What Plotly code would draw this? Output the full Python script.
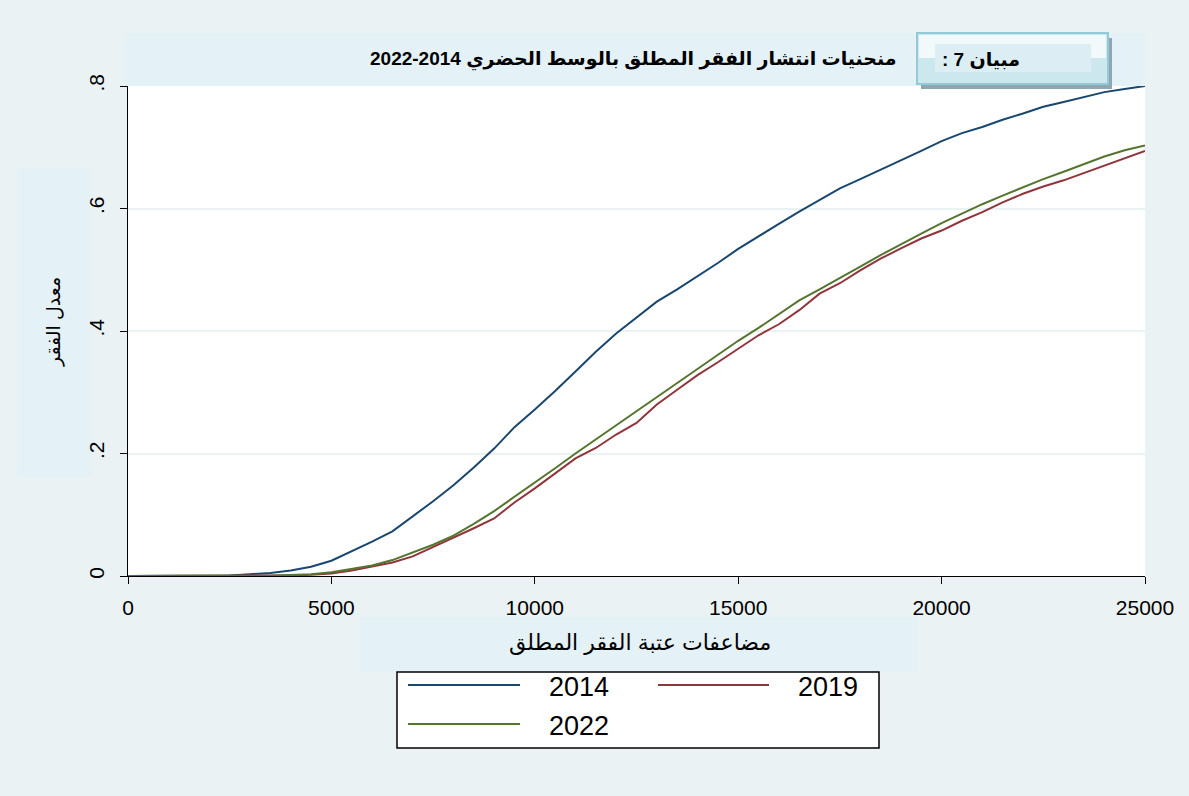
import plotly.graph_objects as go

W, H = 1189, 796

x_vals = [0, 500, 1000, 1500, 2000, 2500, 3000, 3500, 4000, 4500, 5000, 5500, 6000, 6500,
          7000, 7500, 8000, 8500, 9000, 9500, 10000, 10500, 11000, 11500, 12000, 12500,
          13000, 13500, 14000, 14500, 15000, 15500, 16000, 16500, 17000, 17500, 18000,
          18500, 19000, 19500, 20000, 20500, 21000, 21500, 22000, 22500, 23000, 23500,
          24000, 24500, 25000]

y_2014 = [0, 0, 0, 0, 0.0005, 0.001, 0.003, 0.005, 0.009, 0.015, 0.025, 0.04, 0.056, 0.073,
          0.097, 0.122, 0.148, 0.177, 0.208, 0.243, 0.272, 0.302, 0.334, 0.366, 0.396, 0.422,
          0.448, 0.468, 0.489, 0.511, 0.534, 0.555, 0.575, 0.595, 0.614, 0.633, 0.648,
          0.663, 0.679, 0.694, 0.710, 0.723, 0.733, 0.745, 0.755, 0.766, 0.774, 0.782,
          0.790, 0.795, 0.800]

y_2019 = [0, 0, 0, 0, 0, 0, 0, 0.0005, 0.001, 0.002, 0.004, 0.009, 0.015, 0.022,
          0.032, 0.047, 0.063, 0.078, 0.094, 0.120, 0.143, 0.168, 0.192, 0.209, 0.231, 0.250,
          0.280, 0.304, 0.328, 0.349, 0.371, 0.393, 0.411, 0.434, 0.461, 0.478, 0.499,
          0.518, 0.535, 0.551, 0.564, 0.580, 0.594, 0.610, 0.624, 0.636, 0.646, 0.658,
          0.669, 0.681, 0.694]

y_2022 = [0, 0, 0, 0, 0, 0, 0, 0.0005, 0.0015, 0.003, 0.006, 0.011, 0.017, 0.026,
          0.038, 0.051, 0.066, 0.085, 0.106, 0.129, 0.152, 0.176, 0.200, 0.223, 0.246, 0.268,
          0.292, 0.314, 0.337, 0.360, 0.384, 0.405, 0.428, 0.450, 0.468, 0.486, 0.505,
          0.524, 0.542, 0.559, 0.576, 0.592, 0.607, 0.621, 0.635, 0.648, 0.660, 0.672,
          0.685, 0.695, 0.703]

series = [("2014", y_2014, "#1A476F"), ("2019", y_2019, "#90353B"), ("2022", y_2022, "#55752F")]

x_ticks = [0, 5000, 10000, 15000, 20000, 25000]
x_ticktext = ["0", "5000", "10000", "15000", "20000", "25000"]
y_ticks = [0, 0.2, 0.4, 0.6, 0.8]
y_ticktext = ["0", ".2", ".4", ".6", ".8"]

title_text = "2022-2014 منحنيات انتشار الفقر المطلق بالوسط الحضري"
box_text = ": 7 مبيان"
x_title = "مضاعفات عتبة الفقر المطلق"
y_title = "معدل الفقر"

FONT = "Arial, 'Liberation Sans', 'DejaVu Sans', sans-serif"


def px(x):
    return x / W


def py(y):
    return 1 - y / H


fig = go.Figure()
for name, ys, col in series:
    fig.add_trace(go.Scatter(x=x_vals, y=ys, mode="lines", name=name,
                             line=dict(color=col, width=2), showlegend=False))

shapes = []
annotations = []

# light panels
shapes.append(dict(type="rect", xref="paper", yref="paper", x0=px(125), x1=px(1145),
                   y0=py(86), y1=py(33), fillcolor="#E4F1F7", line=dict(width=0), layer="below"))
shapes.append(dict(type="rect", xref="paper", yref="paper", x0=px(17), x1=px(92),
                   y0=py(477), y1=py(168), fillcolor="#E4F1F7", line=dict(width=0), layer="below"))
shapes.append(dict(type="rect", xref="paper", yref="paper", x0=px(360), x1=px(918),
                   y0=py(672), y1=py(617), fillcolor="#E4F1F7", line=dict(width=0), layer="below"))

# title box with shadow
shapes.append(dict(type="rect", xref="paper", yref="paper", x0=px(921), x1=px(1112),
                   y0=py(89), y1=py(38), fillcolor="#8EA7B0", line=dict(width=0), layer="above"))
shapes.append(dict(type="rect", xref="paper", yref="paper", x0=px(917), x1=px(1108),
                   y0=py(84), y1=py(33), fillcolor="#CDE7EF", line=dict(color="#92CAD8", width=2),
                   layer="above"))
shapes.append(dict(type="rect", xref="paper", yref="paper", x0=px(919), x1=px(1106),
                   y0=py(58), y1=py(35), fillcolor="#F2F9FB", line=dict(width=0), layer="above"))
shapes.append(dict(type="rect", xref="paper", yref="paper", x0=px(935), x1=px(1091),
                   y0=py(72), y1=py(44), fillcolor="#DCEDF3", line=dict(width=0), layer="above"))

# legend box
shapes.append(dict(type="rect", xref="paper", yref="paper", x0=px(397), x1=px(879),
                   y0=py(748), y1=py(672), fillcolor="white", line=dict(color="black", width=1.5),
                   layer="above"))
leg_pos = [(408, 520, 685, 579, 687), (658, 769, 685, 828, 687), (408, 520, 724, 579, 726)]
for (name, ys, col), (lx0, lx1, ly, tx, ty) in zip(series, leg_pos):
    shapes.append(dict(type="line", xref="paper", yref="paper", x0=px(lx0), x1=px(lx1),
                       y0=py(ly), y1=py(ly), line=dict(color=col, width=2), layer="above"))
    annotations.append(dict(text=name, xref="paper", yref="paper", x=px(tx), y=py(ty),
                            showarrow=False, xanchor="center", yanchor="middle",
                            font=dict(family=FONT, size=27, color="black")))

annotations.append(dict(text="<b>" + title_text + "</b>", xref="paper", yref="paper",
                        x=px(899), y=py(60), xanchor="right", yanchor="middle", showarrow=False,
                        font=dict(family=FONT, size=19, color="black")))
annotations.append(dict(text="<b>" + box_text + "</b>", xref="paper", yref="paper",
                        x=px(981), y=py(60), xanchor="center", yanchor="middle", showarrow=False,
                        font=dict(family=FONT, size=19, color="black")))
annotations.append(dict(text=x_title, xref="paper", yref="paper",
                        x=px(640), y=py(643), xanchor="center", yanchor="middle", showarrow=False,
                        font=dict(family=FONT, size=22, color="black")))
annotations.append(dict(text=y_title, xref="paper", yref="paper", textangle=-90,
                        x=px(54), y=py(322), xanchor="center", yanchor="middle", showarrow=False,
                        font=dict(family=FONT, size=19, color="black")))

fig.update_layout(
    width=W, height=H,
    margin=dict(l=0, r=0, t=0, b=0, pad=0, autoexpand=False),
    paper_bgcolor="#EAF2F3",
    plot_bgcolor="white",
    shapes=shapes,
    annotations=annotations,
    xaxis=dict(domain=[px(128), px(1145)], range=[0, 25000], tickvals=x_ticks, ticktext=x_ticktext,
               ticks="outside", ticklen=7, tickcolor="black", tickwidth=1, automargin=False,
               showline=True, linecolor="black", linewidth=1, showgrid=False, zeroline=False,
               tickfont=dict(family=FONT, size=21, color="black"), ticklabelstandoff=6),
    yaxis=dict(domain=[py(576), py(86)], range=[0, 0.8], tickvals=y_ticks, ticktext=y_ticktext,
               tickangle=-90, ticks="outside", ticklen=7, tickcolor="black", tickwidth=1,
               automargin=False,
               showline=True, linecolor="black", linewidth=1, showgrid=True,
               gridcolor="#EAF2F3", gridwidth=2, zeroline=False,
               tickfont=dict(family=FONT, size=21, color="black"), ticklabelstandoff=8),
)

fig.write_html("out.html", config={"displayModeBar": False, "responsive": False},
               post_script="document.body.style.margin='0';document.body.style.overflow='hidden';")
